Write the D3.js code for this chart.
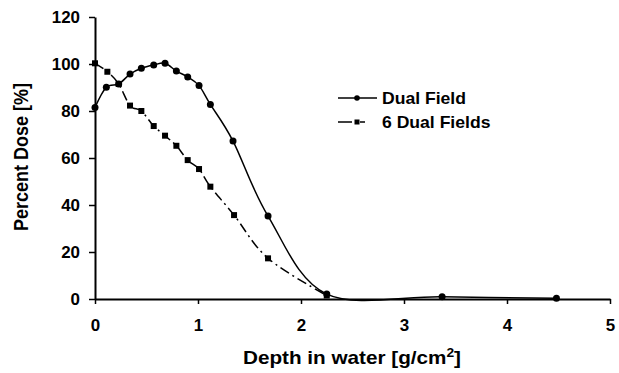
<!DOCTYPE html>
<html>
<head>
<meta charset="utf-8">
<script src="https://cdn.jsdelivr.net/npm/d3@7"></script>
<style>
  body { margin: 0; background: #fff; }
  svg { display: block; font-family: "Liberation Sans", Arial, sans-serif; font-weight: bold; }
</style>
</head>
<body>
<svg id="chart" width="619" height="373"></svg>
<script>
// data
const seriesNames = ["Dual Field", "6 Dual Fields"];

const dualDepth = [0, 0.11, 0.23, 0.34, 0.45, 0.57, 0.68, 0.79, 0.9, 1.01, 1.12, 1.34, 1.68, 2.25, 3.37, 4.48];
const dualDose  = [81.5, 90.1, 91.5, 95.7, 98.2, 99.6, 100.3, 97, 94.5, 90.8, 82.8, 67.2, 35.3, 2.1, 1.0, 0.3];

const sixDepth = [0, 0.12, 0.23, 0.34, 0.45, 0.57, 0.68, 0.79, 0.9, 1.01, 1.12, 1.35, 1.68, 2.25];
const sixDose  = [100.3, 96.7, 91.5, 82.3, 80, 73.6, 69.5, 65.2, 59.1, 55.3, 47.8, 35.7, 17.3, 1.5];

const xTicks = [0, 1, 2, 3, 4, 5];
const yTicks = [0, 20, 40, 60, 80, 100, 120];

// text in the source is a bit wider than plain Arial
const sxTick = 1.06, sxLegend = 1.1, sxTitle = 1.15;

const svg = d3.select("#chart");
const x = d3.scaleLinear().domain([0, 5]).range([95, 610]);
const y = d3.scaleLinear().domain([0, 120]).range([299, 17]);

// axes
const yAxis = svg.append("g")
  .attr("transform", `translate(${x(0)},0)`)
  .call(d3.axisLeft(y).tickValues(yTicks).tickFormat(d3.format("d"))
    .tickSize(6).tickSizeOuter(0).tickPadding(8));

yAxis.selectAll("text")
  .attr("x", -15 / sxTick)
  .attr("transform", `scale(${sxTick},1)`)
  .style("font-size", "16px");

const xAxis = svg.append("g")
  .attr("transform", `translate(0,${y(0)})`)
  .call(d3.axisBottom(x).tickValues(xTicks).tickFormat(d3.format("d"))
    .tickSize(5).tickSizeOuter(0).tickPadding(16));

xAxis.selectAll("text")
  .attr("transform", `scale(${sxTick},1)`)
  .style("font-size", "16px");

svg.selectAll(".domain").attr("stroke", "#000").attr("stroke-width", 2);
svg.selectAll(".tick line").attr("stroke", "#000").attr("stroke-width", 1.5);
svg.selectAll(".tick text").attr("fill", "#000").style("font-family", "Liberation Sans, Arial, sans-serif").style("font-weight", "bold");

// axis titles
svg.append("text")
  .attr("transform", `translate(352,364) scale(${sxTitle},1)`)
  .attr("text-anchor", "middle")
  .style("font-size", "18px")
  .text("Depth in water [g/cm")
  .call(t => t.append("tspan").attr("dy", -7).style("font-size", "12px").text("2"))
  .call(t => t.append("tspan").attr("dy", 7).text("]"));

svg.append("text")
  .attr("transform", `translate(28,157) scale(${sxTitle},1) rotate(-90)`)
  .attr("text-anchor", "middle")
  .style("font-size", "18px")
  .text("Percent Dose [%]");

// lines
const dualData = dualDepth.map((d, i) => ({ x: d, y: dualDose[i] }));
const sixData  = sixDepth.map((d, i) => ({ x: d, y: sixDose[i] }));

const line = d3.line()
  .x(d => x(d.x))
  .y(d => y(d.y))
  .curve(d3.curveCardinal.tension(0));

svg.append("path")
  .datum(sixData)
  .attr("d", line)
  .attr("fill", "none")
  .attr("stroke", "#000")
  .attr("stroke-width", 1.5)
  .attr("stroke-dasharray", "10,4,2,4");

svg.append("path")
  .datum(dualData)
  .attr("d", line)
  .attr("fill", "none")
  .attr("stroke", "#000")
  .attr("stroke-width", 1.5);

svg.selectAll(".sq")
  .data(sixData)
  .enter().append("rect")
  .attr("class", "sq")
  .attr("x", d => x(d.x) - 3)
  .attr("y", d => y(d.y) - 3)
  .attr("width", 6)
  .attr("height", 6)
  .attr("fill", "#000");

svg.selectAll(".dot")
  .data(dualData)
  .enter().append("circle")
  .attr("class", "dot")
  .attr("cx", d => x(d.x))
  .attr("cy", d => y(d.y))
  .attr("r", 3.5)
  .attr("fill", "#000");

// legend
const legend = svg.append("g").attr("transform", "translate(338,98)");

seriesNames.forEach((name, i) => {
  const row = legend.append("g").attr("transform", `translate(0,${i * 24})`);
  row.append("line")
    .attr("x1", 0).attr("x2", 39)
    .attr("stroke", "#000")
    .attr("stroke-width", 1.5)
    .attr("stroke-dasharray", i === 1 ? "14,8,5,100" : null);
  if (i === 0) {
    row.append("circle").attr("cx", 19).attr("r", 2.8).attr("fill", "#000");
  } else {
    row.append("rect").attr("x", 16.5).attr("y", -2.5).attr("width", 5).attr("height", 5).attr("fill", "#000");
  }
  row.append("text")
    .attr("transform", `translate(44,6) scale(${sxLegend},1)`)
    .style("font-size", "16px")
    .text(name);
});
</script>
</body>
</html>
